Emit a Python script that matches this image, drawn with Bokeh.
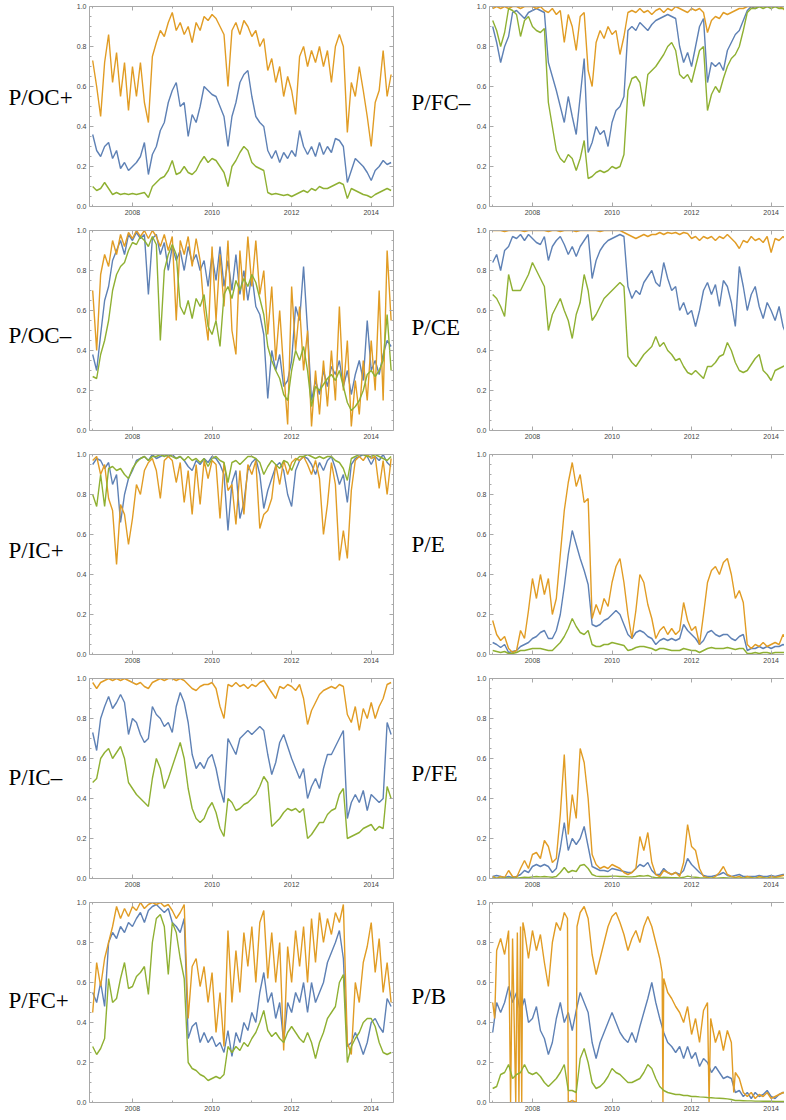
from bokeh.plotting import figure
from bokeh.layouts import column, row
from bokeh.models import Range1d, LinearAxis, FixedTicker, PrintfTickFormatter
from bokeh.core.properties import value
from bokeh.embed import file_html
from bokeh.resources import INLINE

# ---------------- data ----------------
years_left = [round(2007.0 + 0.1 * i, 1) for i in range(76)]    # 2007.0 .. 2014.5
years_right = [round(2007.0 + 0.1 * i, 1) for i in range(75)]   # 2007.0 .. 2014.4

# P/OC+
poc_plus_blue = [0.36,0.28,0.25,0.30,0.32,0.24,0.28,0.19,0.22,0.18,
 0.20,0.22,0.25,0.32,0.16,0.26,0.30,0.38,0.42,0.52,
 0.58,0.62,0.50,0.52,0.35,0.46,0.42,0.50,0.60,0.58,
 0.56,0.55,0.50,0.45,0.30,0.45,0.52,0.62,0.66,0.68,
 0.55,0.45,0.42,0.40,0.28,0.24,0.28,0.22,0.27,0.24,
 0.28,0.25,0.38,0.30,0.26,0.30,0.25,0.32,0.26,0.30,
 0.27,0.34,0.33,0.30,0.12,0.18,0.24,0.22,0.20,0.17,
 0.13,0.18,0.20,0.23,0.21,0.22]
poc_plus_orange = [0.73,0.60,0.45,0.72,0.86,0.62,0.77,0.55,0.72,0.48,
 0.70,0.55,0.72,0.52,0.42,0.75,0.82,0.88,0.85,0.92,
 0.97,0.88,0.92,0.86,0.90,0.82,0.92,0.88,0.95,0.93,
 0.96,0.94,0.90,0.86,0.60,0.88,0.92,0.86,0.93,0.90,
 0.85,0.88,0.80,0.84,0.68,0.74,0.62,0.70,0.55,0.65,
 0.58,0.46,0.75,0.80,0.70,0.78,0.72,0.80,0.70,0.78,
 0.62,0.80,0.86,0.80,0.37,0.62,0.55,0.70,0.58,0.45,
 0.30,0.52,0.58,0.78,0.55,0.66]
poc_plus_green = [0.10,0.08,0.09,0.12,0.09,0.06,0.07,0.06,0.065,0.06,
 0.065,0.06,0.065,0.07,0.045,0.10,0.12,0.14,0.15,0.18,
 0.23,0.16,0.17,0.20,0.17,0.16,0.18,0.22,0.25,0.22,
 0.24,0.23,0.20,0.17,0.10,0.20,0.23,0.27,0.30,0.28,
 0.22,0.20,0.19,0.18,0.07,0.06,0.065,0.06,0.055,0.06,
 0.05,0.06,0.07,0.08,0.07,0.09,0.08,0.10,0.09,0.09,
 0.10,0.11,0.12,0.11,0.04,0.09,0.08,0.07,0.06,0.055,
 0.045,0.06,0.07,0.08,0.09,0.08]

# P/OC-
poc_minus_blue = [0.38,0.30,0.48,0.65,0.72,0.85,0.90,0.95,0.88,0.98,
 0.95,0.99,0.96,0.98,0.68,0.96,0.98,0.88,0.94,0.80,
 0.92,0.85,0.90,0.80,0.92,0.84,0.88,0.80,0.85,0.72,
 0.88,0.75,0.92,0.72,0.85,0.70,0.88,0.68,0.80,0.65,
 0.78,0.62,0.58,0.48,0.16,0.40,0.30,0.38,0.22,0.25,
 0.35,0.62,0.55,0.82,0.50,0.15,0.25,0.18,0.30,0.22,
 0.32,0.28,0.35,0.22,0.30,0.18,0.28,0.35,0.25,0.55,
 0.30,0.35,0.28,0.38,0.45,0.42]
poc_minus_orange = [0.70,0.40,0.78,0.88,0.82,0.95,0.88,0.98,0.92,0.99,
 0.96,1.0,0.97,1.0,0.96,1.0,0.97,0.92,0.98,0.90,
 0.97,0.55,0.95,0.88,0.97,0.82,0.96,0.85,0.60,0.45,
 0.92,0.55,0.88,0.62,0.95,0.50,0.38,0.90,0.65,0.97,
 0.72,0.95,0.68,0.80,0.48,0.72,0.35,0.60,0.30,0.03,
 0.72,0.40,0.62,0.30,0.50,0.02,0.30,0.08,0.35,0.12,
 0.40,0.15,0.62,0.20,0.45,0.02,0.25,0.08,0.35,0.15,
 0.45,0.20,0.70,0.15,0.90,0.55]
poc_minus_green = [0.27,0.26,0.38,0.45,0.55,0.70,0.78,0.82,0.84,0.90,
 0.94,0.93,0.97,0.95,0.92,0.97,0.93,0.45,0.80,0.88,
 0.93,0.88,0.62,0.58,0.65,0.56,0.66,0.62,0.68,0.52,
 0.48,0.55,0.42,0.68,0.72,0.66,0.75,0.70,0.76,0.72,
 0.78,0.74,0.66,0.58,0.42,0.35,0.30,0.26,0.18,0.15,
 0.30,0.40,0.35,0.42,0.30,0.12,0.22,0.20,0.23,0.26,
 0.28,0.25,0.30,0.22,0.14,0.10,0.12,0.15,0.20,0.28,
 0.30,0.27,0.30,0.35,0.58,0.30]

# P/IC+
pic_plus_blue = [0.95,0.98,0.97,0.93,0.96,0.85,0.90,0.66,0.80,0.88,
 0.92,0.97,0.98,0.99,0.97,1.0,0.98,0.99,1.0,0.99,
 1.0,0.98,0.99,0.97,0.94,0.92,0.97,0.95,0.98,0.96,
 0.99,0.98,0.95,0.90,0.62,0.86,0.92,0.68,0.76,0.92,
 0.96,0.98,0.90,0.73,0.82,0.88,0.94,0.96,0.92,0.80,
 0.74,0.92,0.97,0.99,0.98,0.95,0.90,0.96,0.92,0.97,
 0.99,0.93,0.85,0.90,0.76,0.95,0.98,0.99,1.0,0.99,
 0.95,0.99,0.97,1.0,0.96,0.94]
pic_plus_orange = [0.97,0.99,0.90,0.95,0.78,0.72,0.45,0.75,0.70,0.55,
 0.68,0.85,0.80,0.92,0.96,0.98,0.92,0.78,0.97,0.99,
 0.97,0.86,0.96,0.76,0.92,0.70,0.95,0.75,0.97,0.88,
 0.97,0.95,0.68,0.96,0.82,0.85,0.65,0.92,0.70,0.95,
 0.90,0.97,0.63,0.70,0.72,0.78,0.95,0.85,0.97,0.90,
 0.96,0.98,0.97,0.99,0.95,0.90,0.97,0.88,0.60,0.75,
 0.96,0.85,0.47,0.62,0.48,0.82,0.97,0.99,0.97,1.0,
 0.98,0.99,0.83,0.97,0.80,0.98]
pic_plus_green = [0.80,0.74,0.90,0.74,0.93,0.94,0.92,0.93,0.90,0.88,
 0.93,0.96,0.98,0.99,0.97,0.99,0.99,1.0,0.99,1.0,
 0.99,0.98,0.99,0.97,0.99,0.97,0.98,0.96,0.98,0.94,
 0.98,0.99,0.97,0.96,0.86,0.96,0.97,0.95,0.97,0.99,
 0.99,0.98,0.96,0.90,0.94,0.97,0.95,0.93,0.97,0.96,
 0.92,0.97,0.99,0.99,1.0,0.99,0.98,0.99,0.98,0.99,
 0.99,0.97,0.96,0.93,0.87,0.98,0.99,1.0,1.0,0.99,
 0.99,1.0,0.99,0.98,0.97,0.99]

# P/IC-
pic_minus_blue = [0.73,0.64,0.80,0.86,0.91,0.85,0.88,0.92,0.88,0.72,
 0.80,0.78,0.72,0.68,0.70,0.86,0.82,0.80,0.76,0.78,
 0.73,0.86,0.93,0.88,0.78,0.62,0.55,0.58,0.55,0.60,
 0.62,0.55,0.45,0.38,0.70,0.66,0.62,0.70,0.72,0.74,
 0.72,0.74,0.76,0.74,0.62,0.52,0.58,0.68,0.72,0.66,
 0.60,0.55,0.50,0.55,0.40,0.46,0.50,0.45,0.55,0.62,
 0.62,0.66,0.70,0.74,0.30,0.38,0.42,0.38,0.44,0.34,
 0.42,0.40,0.38,0.40,0.78,0.72]
pic_minus_orange = [0.98,0.95,0.98,0.99,1.0,0.99,1.0,0.99,1.0,0.99,
 0.98,0.97,0.98,0.96,0.95,0.98,0.99,1.0,0.99,1.0,
 1.0,0.99,1.0,0.99,0.97,0.95,0.94,0.96,0.97,0.97,
 0.98,0.95,0.86,0.80,0.97,0.96,0.98,0.96,0.97,0.95,
 0.97,0.96,0.98,0.99,0.96,0.93,0.90,0.96,0.95,0.97,
 0.96,0.94,0.97,0.90,0.77,0.84,0.88,0.92,0.94,0.95,
 0.96,0.95,0.97,0.96,0.82,0.78,0.86,0.74,0.85,0.80,
 0.88,0.80,0.86,0.90,0.97,0.98]
pic_minus_green = [0.48,0.50,0.60,0.63,0.65,0.60,0.63,0.66,0.60,0.48,
 0.45,0.42,0.40,0.38,0.36,0.50,0.60,0.55,0.45,0.50,
 0.56,0.62,0.68,0.60,0.45,0.35,0.30,0.28,0.30,0.35,
 0.38,0.33,0.25,0.21,0.40,0.38,0.34,0.35,0.37,0.38,
 0.40,0.42,0.46,0.51,0.48,0.26,0.28,0.30,0.33,0.35,
 0.34,0.35,0.33,0.35,0.20,0.22,0.25,0.28,0.28,0.32,
 0.34,0.35,0.42,0.45,0.20,0.21,0.22,0.23,0.25,0.26,
 0.27,0.24,0.26,0.25,0.46,0.40]

# P/FC+
pfc_plus_blue = [0.55,0.50,0.60,0.48,0.80,0.85,0.82,0.88,0.85,0.90,
 0.88,0.92,0.95,0.90,0.96,0.98,0.99,0.97,0.95,0.97,
 0.90,0.88,0.85,0.92,0.32,0.38,0.40,0.30,0.35,0.30,
 0.33,0.28,0.30,0.25,0.36,0.23,0.35,0.30,0.40,0.36,
 0.45,0.40,0.55,0.65,0.50,0.55,0.42,0.50,0.30,0.50,
 0.45,0.55,0.50,0.60,0.45,0.60,0.50,0.55,0.60,0.70,
 0.75,0.80,0.86,0.72,0.28,0.30,0.35,0.30,0.24,0.30,
 0.40,0.42,0.38,0.35,0.52,0.48]
pfc_plus_orange = [0.45,0.70,0.58,0.72,0.80,0.88,0.98,0.92,0.97,0.93,
 0.98,0.96,1.0,0.97,0.99,1.0,0.99,1.0,0.98,0.99,
 0.96,0.92,0.95,0.99,0.42,0.68,0.72,0.58,0.68,0.50,
 0.65,0.35,0.55,0.28,0.86,0.50,0.76,0.55,0.85,0.68,
 0.88,0.60,0.90,0.96,0.62,0.85,0.60,0.80,0.26,0.78,
 0.60,0.86,0.68,0.88,0.60,0.92,0.70,0.95,0.80,0.92,
 0.84,0.95,0.90,0.99,0.30,0.24,0.60,0.50,0.70,0.78,
 0.90,0.65,0.82,0.55,0.70,0.50]
pfc_plus_green = [0.28,0.24,0.27,0.32,0.62,0.50,0.52,0.62,0.70,0.57,
 0.58,0.63,0.65,0.68,0.54,0.80,0.92,0.94,0.88,0.64,
 0.90,0.85,0.72,0.62,0.20,0.17,0.16,0.14,0.13,0.11,
 0.12,0.13,0.12,0.14,0.28,0.25,0.28,0.26,0.30,0.28,
 0.32,0.35,0.40,0.46,0.36,0.33,0.35,0.32,0.30,0.35,
 0.38,0.35,0.32,0.30,0.35,0.30,0.22,0.30,0.35,0.42,
 0.45,0.48,0.60,0.64,0.20,0.28,0.32,0.35,0.40,0.42,
 0.42,0.38,0.30,0.25,0.24,0.25]

# P/FC-
pfc_minus_blue = [0.90,0.82,0.72,0.80,0.85,0.97,0.98,0.96,0.94,0.97,
 0.98,0.99,0.98,0.97,0.72,0.65,0.58,0.50,0.42,0.55,
 0.45,0.36,0.55,0.74,0.27,0.32,0.40,0.36,0.38,0.30,
 0.42,0.48,0.50,0.55,0.88,0.90,0.88,0.92,0.90,0.88,
 0.91,0.93,0.94,0.95,0.96,0.95,0.94,0.80,0.72,0.77,
 0.70,0.80,0.90,0.94,0.62,0.72,0.70,0.72,0.68,0.78,
 0.82,0.86,0.88,0.93,0.98,1.0,0.99,1.0,1.0,1.0,
 1.0,1.0,1.0,1.0,1.0]
pfc_minus_orange = [0.99,1.0,0.99,1.0,0.99,1.0,1.0,0.99,1.0,1.0,
 1.0,0.99,1.0,0.98,0.97,0.99,0.96,0.98,0.82,0.96,
 0.90,0.78,0.95,0.97,0.68,0.60,0.82,0.88,0.84,0.90,
 0.86,0.88,0.76,0.85,0.97,0.98,0.97,0.99,0.97,0.98,
 0.96,0.98,0.99,0.97,0.99,0.98,1.0,0.99,0.98,0.97,
 0.99,0.98,0.99,0.97,0.87,0.93,0.95,0.94,0.97,0.96,
 0.97,0.98,0.99,0.99,1.0,1.0,1.0,1.0,1.0,1.0,
 1.0,1.0,1.0,0.99,0.97]
pfc_minus_green = [0.93,0.88,0.80,0.87,0.99,0.98,0.96,0.85,0.93,0.95,
 0.90,0.88,0.87,0.89,0.52,0.40,0.28,0.24,0.22,0.26,
 0.24,0.18,0.24,0.33,0.14,0.15,0.17,0.18,0.17,0.18,
 0.20,0.19,0.20,0.26,0.58,0.64,0.65,0.62,0.50,0.66,
 0.68,0.70,0.73,0.76,0.80,0.82,0.78,0.66,0.64,0.66,
 0.62,0.70,0.78,0.80,0.48,0.56,0.60,0.57,0.64,0.70,
 0.74,0.76,0.80,0.88,0.97,0.99,0.99,1.0,0.99,1.0,
 0.99,1.0,0.99,0.99,0.99]

# P/CE
pce_blue = [0.84,0.88,0.80,0.90,0.92,0.97,0.96,0.98,0.95,0.98,
 0.96,0.94,0.93,0.97,0.85,0.92,0.95,0.97,0.93,0.88,
 0.92,0.87,0.92,0.95,0.98,0.76,0.85,0.90,0.93,0.95,
 0.96,0.97,0.98,0.97,0.72,0.66,0.70,0.68,0.74,0.77,
 0.80,0.74,0.72,0.84,0.76,0.70,0.72,0.60,0.64,0.58,
 0.60,0.52,0.60,0.70,0.74,0.68,0.73,0.62,0.75,0.72,
 0.64,0.52,0.82,0.72,0.60,0.68,0.72,0.62,0.56,0.64,
 0.60,0.55,0.62,0.52,0.47]
pce_orange = [1.0,1.0,1.0,0.995,1.0,1.0,1.0,1.0,0.995,1.0,
 1.0,1.0,1.0,1.0,0.995,1.0,1.0,0.995,1.0,1.0,
 1.0,0.995,1.0,1.0,1.0,1.0,1.0,0.995,1.0,1.0,
 1.0,1.0,1.0,0.99,0.98,0.97,0.96,0.97,0.98,0.97,
 0.98,0.98,0.99,0.98,0.99,0.985,0.99,0.98,0.99,0.985,
 0.96,0.97,0.95,0.97,0.96,0.97,0.95,0.97,0.96,0.98,
 0.96,0.94,0.91,0.95,0.94,0.97,0.95,0.96,0.94,0.97,
 0.89,0.96,0.95,0.97,0.95]
pce_green = [0.68,0.66,0.62,0.57,0.78,0.70,0.70,0.70,0.74,0.78,
 0.84,0.80,0.76,0.72,0.50,0.58,0.62,0.66,0.60,0.55,
 0.46,0.58,0.64,0.78,0.70,0.55,0.58,0.62,0.66,0.68,
 0.70,0.72,0.74,0.72,0.37,0.34,0.32,0.35,0.38,0.40,
 0.42,0.47,0.42,0.44,0.40,0.38,0.35,0.36,0.32,0.29,
 0.28,0.30,0.28,0.26,0.32,0.32,0.34,0.37,0.38,0.44,
 0.40,0.34,0.30,0.29,0.30,0.33,0.36,0.38,0.30,0.28,
 0.25,0.30,0.31,0.32,0.33]

# P/E
pe_blue = [0.06,0.05,0.035,0.05,0.01,0.015,0.02,0.04,0.05,0.06,
 0.08,0.09,0.11,0.12,0.08,0.08,0.12,0.20,0.34,0.50,
 0.62,0.55,0.48,0.42,0.35,0.15,0.14,0.15,0.17,0.18,
 0.20,0.22,0.20,0.15,0.10,0.08,0.11,0.12,0.11,0.09,
 0.08,0.05,0.07,0.08,0.07,0.08,0.07,0.08,0.15,0.12,
 0.10,0.08,0.05,0.07,0.11,0.12,0.10,0.09,0.10,0.10,
 0.08,0.07,0.09,0.10,0.02,0.03,0.03,0.04,0.03,0.04,
 0.03,0.04,0.04,0.05,0.04]
pe_orange = [0.17,0.10,0.07,0.09,0.03,0.01,0.02,0.12,0.08,0.22,
 0.38,0.28,0.40,0.30,0.38,0.20,0.28,0.50,0.72,0.86,
 0.96,0.84,0.90,0.76,0.78,0.18,0.25,0.20,0.28,0.24,
 0.36,0.44,0.48,0.36,0.20,0.08,0.22,0.40,0.36,0.25,
 0.18,0.08,0.12,0.14,0.10,0.13,0.10,0.12,0.26,0.17,
 0.12,0.14,0.05,0.20,0.36,0.42,0.44,0.40,0.46,0.48,
 0.40,0.28,0.32,0.26,0.05,0.03,0.05,0.04,0.06,0.04,
 0.05,0.06,0.05,0.10,0.07]
pe_green = [0.02,0.015,0.01,0.015,0.005,0.005,0.01,0.02,0.02,0.025,
 0.03,0.03,0.03,0.025,0.02,0.02,0.04,0.06,0.09,0.13,
 0.18,0.14,0.11,0.10,0.12,0.05,0.04,0.04,0.05,0.05,
 0.06,0.055,0.05,0.045,0.02,0.025,0.035,0.04,0.04,0.035,
 0.03,0.02,0.03,0.03,0.025,0.02,0.02,0.02,0.03,0.025,
 0.02,0.02,0.01,0.02,0.03,0.035,0.03,0.03,0.03,0.035,
 0.03,0.025,0.03,0.03,0.005,0.005,0.01,0.005,0.01,0.01,
 0.005,0.01,0.01,0.01,0.01]

# P/FE
pfe_blue = [0.01,0.015,0.01,0.005,0.01,0.005,0.01,0.02,0.04,0.03,
 0.06,0.07,0.06,0.07,0.06,0.03,0.05,0.15,0.28,0.14,
 0.20,0.17,0.20,0.26,0.16,0.06,0.05,0.04,0.04,0.035,
 0.05,0.045,0.04,0.035,0.03,0.03,0.05,0.07,0.06,0.08,
 0.04,0.02,0.02,0.05,0.03,0.02,0.03,0.02,0.04,0.10,
 0.07,0.05,0.03,0.015,0.01,0.01,0.015,0.02,0.03,0.015,
 0.01,0.015,0.02,0.01,0.01,0.01,0.01,0.015,0.01,0.01,
 0.015,0.01,0.015,0.02,0.02]
pfe_orange = [0.01,0.0,0.01,0.005,0.04,0.01,0.005,0.05,0.09,0.05,
 0.12,0.13,0.10,0.19,0.16,0.08,0.10,0.32,0.62,0.22,
 0.42,0.30,0.65,0.58,0.40,0.12,0.07,0.05,0.06,0.05,
 0.07,0.06,0.05,0.03,0.02,0.03,0.05,0.21,0.14,0.23,
 0.08,0.02,0.01,0.04,0.03,0.02,0.03,0.01,0.08,0.27,
 0.16,0.14,0.05,0.01,0.005,0.0,0.01,0.03,0.06,0.02,
 0.01,0.005,0.01,0.0,0.01,0.005,0.0,0.01,0.005,0.0,
 0.01,0.005,0.01,0.015,0.02]
pfe_green = [0.002,0.002,0.002,0.002,0.003,0.002,0.002,0.004,0.006,0.005,
 0.008,0.01,0.008,0.01,0.008,0.006,0.01,0.03,0.055,0.03,
 0.04,0.035,0.065,0.07,0.05,0.02,0.012,0.01,0.01,0.01,
 0.012,0.012,0.01,0.01,0.008,0.008,0.01,0.014,0.012,0.015,
 0.008,0.004,0.004,0.006,0.005,0.004,0.004,0.003,0.006,0.012,
 0.008,0.006,0.004,0.003,0.002,0.002,0.002,0.003,0.004,0.003,
 0.002,0.002,0.002,0.002,0.002,0.002,0.002,0.002,0.002,0.002,
 0.002,0.002,0.002,0.002,0.002]

# P/B
pb_blue = [0.35,0.50,0.45,0.50,0.58,0.50,0.55,0.45,0.52,0.40,
 0.42,0.48,0.36,0.32,0.24,0.30,0.42,0.50,0.40,0.45,
 0.36,0.46,0.55,0.50,0.45,0.30,0.22,0.30,0.35,0.40,
 0.45,0.40,0.35,0.32,0.30,0.35,0.30,0.38,0.45,0.52,
 0.60,0.50,0.42,0.35,0.30,0.28,0.25,0.28,0.22,0.28,
 0.22,0.25,0.18,0.22,0.20,0.15,0.18,0.15,0.12,0.13,
 0.12,0.05,0.06,0.03,0.05,0.02,0.05,0.03,0.04,0.06,
 0.03,0.02,0.04,0.05,0.05]
pb_orange_years = [2007.0,2007.05,2007.1,2007.2,2007.3,2007.4,2007.45,2007.5,2007.58,2007.62,
 2007.66,2007.7,2007.73,2007.76,2007.8,2007.9,2008.0,2008.1,2008.2,2008.3,
 2008.4,2008.5,2008.6,2008.7,2008.8,2008.88,2008.9,2009.0,2009.1,2009.12,
 2009.2,2009.3,2009.4,2009.5,2009.6,2009.7,2009.8,2009.9,2010.0,2010.1,
 2010.2,2010.3,2010.4,2010.5,2010.6,2010.7,2010.8,2010.9,2011.0,2011.1,
 2011.2,2011.26,2011.28,2011.3,2011.4,2011.5,2011.6,2011.7,2011.8,2011.9,
 2012.0,2012.1,2012.2,2012.3,2012.4,2012.44,2012.48,2012.6,2012.7,2012.8,
 2012.9,2013.0,2013.06,2013.1,2013.2,2013.3,2013.4,2013.5,2013.6,2013.7,
 2013.8,2013.9,2014.0,2014.1,2014.2,2014.3,2014.4]
pb_orange = [0.50,0.42,0.76,0.82,0.74,0.86,0.0,0.82,0.0,0.85,
 0.0,0.88,0.0,0.90,0.86,0.72,0.86,0.76,0.84,0.70,
 0.58,0.80,0.90,0.86,0.95,0.92,0.0,0.01,0.0,0.88,
 0.95,0.98,0.92,0.74,0.64,0.72,0.80,0.88,0.93,0.95,
 0.90,0.84,0.76,0.82,0.86,0.80,0.88,0.93,0.88,0.80,
 0.72,0.65,0.0,0.62,0.55,0.52,0.48,0.45,0.40,0.48,
 0.34,0.42,0.30,0.46,0.50,0.0,0.42,0.30,0.36,0.26,
 0.36,0.30,0.05,0.15,0.12,0.05,0.03,0.05,0.02,0.04,
 0.03,0.05,0.02,0.03,0.04,0.05,0.04]
pb_green = [0.07,0.08,0.14,0.15,0.19,0.12,0.14,0.15,0.19,0.15,
 0.14,0.15,0.13,0.10,0.08,0.10,0.12,0.15,0.19,0.06,
 0.06,0.05,0.22,0.27,0.20,0.10,0.07,0.08,0.10,0.13,
 0.17,0.15,0.14,0.12,0.10,0.10,0.11,0.12,0.15,0.19,
 0.17,0.12,0.08,0.06,0.05,0.045,0.04,0.04,0.035,0.035,
 0.03,0.03,0.028,0.027,0.025,0.024,0.022,0.021,0.02,0.018,
 0.015,0.01,0.01,0.009,0.008,0.008,0.007,0.007,0.006,0.006,
 0.006,0.005,0.005,0.005,0.005]

year_ticks = [2008, 2010, 2012, 2014]
year_minor = [2007, 2009, 2011, 2013]
value_ticks = [0.0, 0.2, 0.4, 0.6, 0.8, 1.0]
value_minor = [0.05, 0.1, 0.15, 0.25, 0.3, 0.35, 0.45, 0.5, 0.55, 0.65, 0.7, 0.75, 0.85, 0.9, 0.95]

# ---------------- style / layout ----------------
BLUE, ORANGE, GREEN = "#5E81B5", "#E19C24", "#8FB032"
FRAME = "#a8a8a8"
TICKTXT = "#444444"
X0, X1_LEFT = 2006.92, 2014.56
FRAME_W_LEFT, FRAME_W_RIGHT, FRAME_H = 307, 298, 200
PX_PER_YEAR = FRAME_W_LEFT / (X1_LEFT - X0)
LABEL_W = 73
PLOT_BORDER_L = 13
BOTTOM_B = 14


def style_axis(ax, show_labels):
    ax.axis_line_color = FRAME
    ax.major_tick_line_color = FRAME
    ax.minor_tick_line_color = FRAME
    ax.major_tick_in = 4
    ax.major_tick_out = 0
    ax.minor_tick_in = 2
    ax.minor_tick_out = 0
    ax.major_label_text_font = "Liberation Sans"
    if show_labels:
        ax.major_label_text_font_size = "7px"
        ax.major_label_text_color = TICKTXT
        ax.major_label_standoff = 3
    else:
        ax.major_label_text_font_size = "0px"
        ax.major_label_text_color = None
        ax.major_label_standoff = 0


def label_fig(name, height, text_x, text_y):
    q = figure(width=LABEL_W, height=height, x_range=Range1d(0, LABEL_W), y_range=Range1d(0, height),
               output_backend="svg", toolbar_location=None,
               x_axis_location=None, y_axis_location=None,
               min_border_left=0, min_border_right=0, min_border_top=0, min_border_bottom=0)
    q.outline_line_color = None
    q.grid.visible = False
    q.text(x=[text_x], y=[text_y], text=[name], text_font=value("Liberation Serif"),
           text_font_size=value("23px"), text_color="black",
           text_align="left", text_baseline="middle")
    return q


def panel(name, blue, orange, green, left_col, first_row, label_dy, orange_x=None):
    fw = FRAME_W_LEFT if left_col else FRAME_W_RIGHT
    fr = 7 if left_col else 0
    ft = 6 if first_row else 10
    height = ft + FRAME_H + BOTTOM_B
    x1 = X0 + fw / PX_PER_YEAR
    p = figure(width=PLOT_BORDER_L + fw + fr, height=height,
               x_range=Range1d(X0, x1), y_range=Range1d(0, 1),
               output_backend="svg", toolbar_location=None,
               x_axis_location=None, y_axis_location=None,
               min_border_left=PLOT_BORDER_L, min_border_right=fr,
               min_border_top=ft, min_border_bottom=BOTTOM_B)
    p.outline_line_color = None
    p.grid.visible = False

    def xaxis(show):
        ax = LinearAxis(ticker=FixedTicker(ticks=year_ticks, minor_ticks=year_minor),
                        formatter=PrintfTickFormatter(format="%d"))
        style_axis(ax, show)
        return ax

    def yaxis(show):
        ax = LinearAxis(ticker=FixedTicker(ticks=value_ticks, minor_ticks=value_minor),
                        formatter=PrintfTickFormatter(format="%.1f"))
        style_axis(ax, show)
        return ax

    p.add_layout(xaxis(True), "below")
    p.add_layout(xaxis(False), "above")
    p.add_layout(yaxis(True), "left")
    if left_col:
        p.add_layout(yaxis(False), "right")

    xs = years_left if left_col else years_right
    for vals, col, xv in ((blue, BLUE, xs), (orange, ORANGE, orange_x or xs), (green, GREEN, xs)):
        n = min(len(xv), len(vals))
        p.line(xv[:n], vals[:n], line_color=col, line_width=1.4)

    text_x = 8 if left_col else 11
    text_y = BOTTOM_B + FRAME_H / 2 + label_dy
    return row(label_fig(name, height, text_x, text_y), p, spacing=0)


left = [
    panel("P/OC+", poc_plus_blue, poc_plus_orange, poc_plus_green, True, True, 6),
    panel("P/OC\u2013", poc_minus_blue, poc_minus_orange, poc_minus_green, True, False, -8),
    panel("P/IC+", pic_plus_blue, pic_plus_orange, pic_plus_green, True, False, 2),
    panel("P/IC\u2013", pic_minus_blue, pic_minus_orange, pic_minus_green, True, False, -1),
    panel("P/FC+", pfc_plus_blue, pfc_plus_orange, pfc_plus_green, True, False, 0),
]
right = [
    panel("P/FC\u2013", pfc_minus_blue, pfc_minus_orange, pfc_minus_green, False, True, 0),
    panel("P/CE", pce_blue, pce_orange, pce_green, False, False, 1),
    panel("P/E", pe_blue, pe_orange, pe_green, False, False, 9),
    panel("P/FE", pfe_blue, pfe_orange, pfe_green, False, False, 4),
    panel("P/B", pb_blue, pb_orange, pb_green, False, False, 5, orange_x=pb_orange_years),
]

layout = column(*[row(l, r, spacing=0) for l, r in zip(left, right)], spacing=0)

open("out.html", "w").write(file_html(layout, INLINE))
